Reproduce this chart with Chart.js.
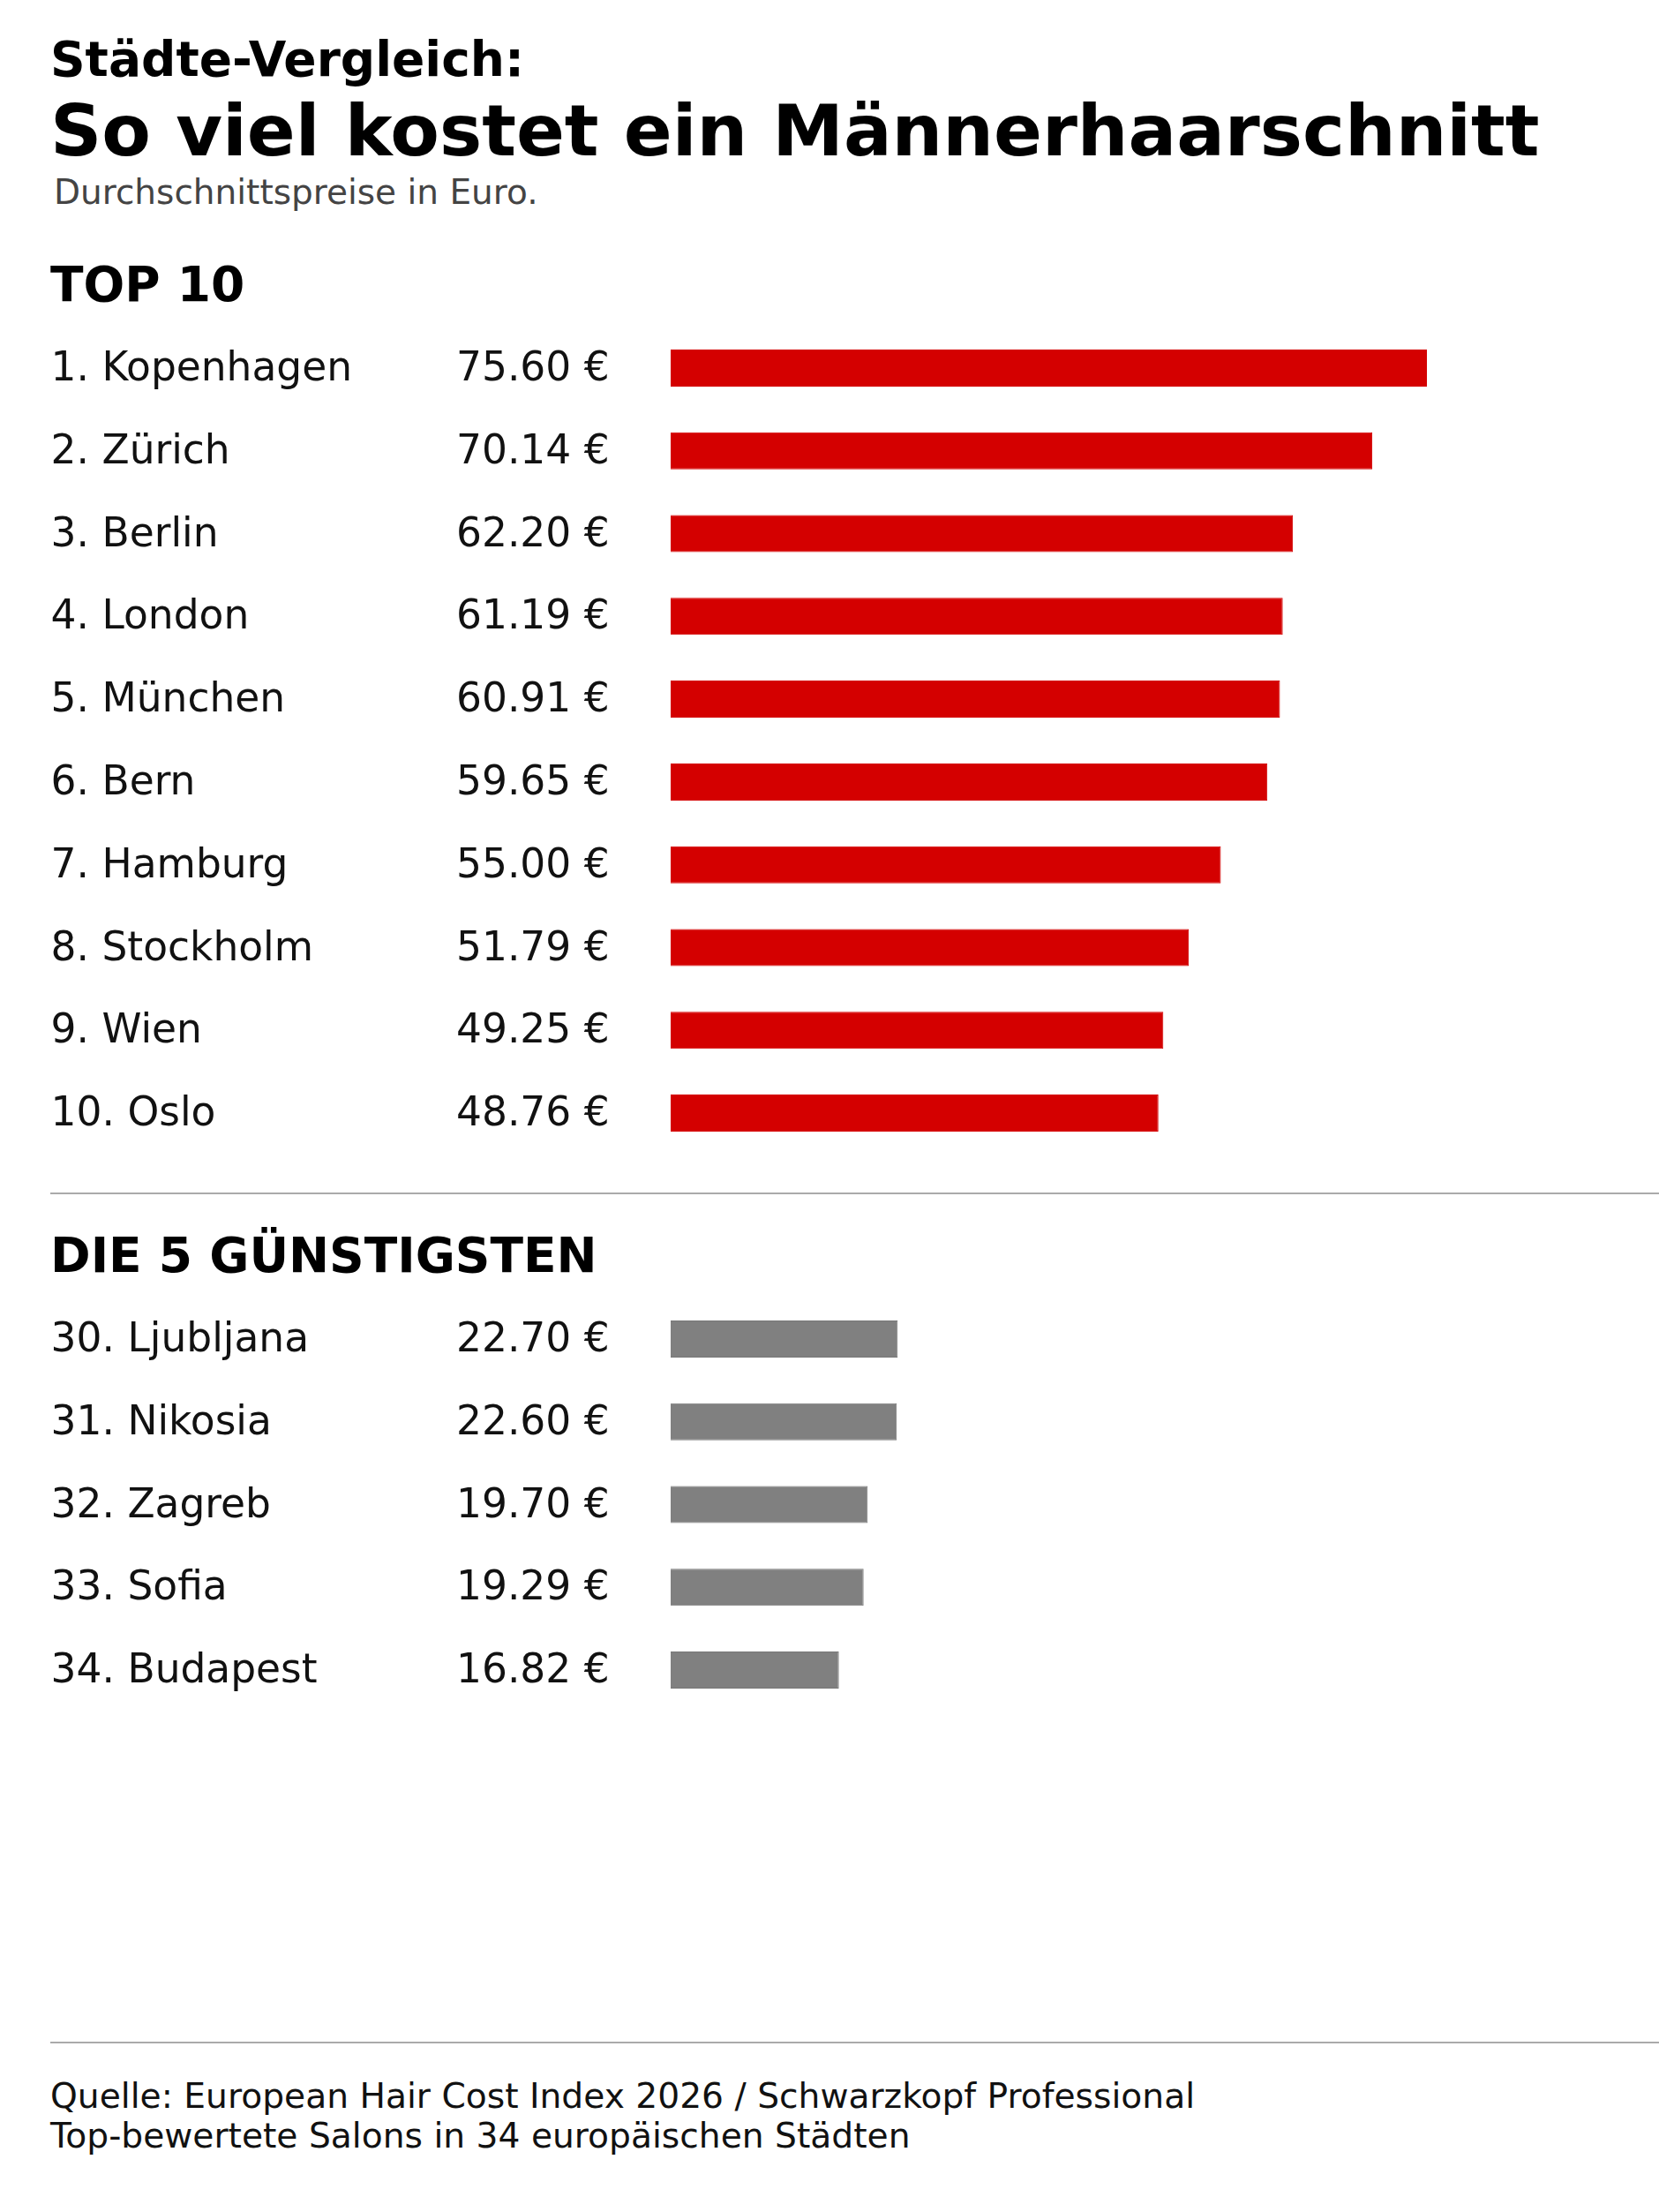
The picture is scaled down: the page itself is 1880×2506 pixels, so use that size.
<!DOCTYPE html>
<html lang="de">
<head>
<meta charset="utf-8">
<title>Städte-Vergleich: Männerhaarschnitt</title>
<script src="https://cdn.jsdelivr.net/npm/chart.js@4"></script>
<style>
  html, body { margin: 0; padding: 0; background: #fff; }
  body { width: 1880px; height: 2506px; position: relative; overflow: hidden;
         font-family: "DejaVu Sans", sans-serif; color: #000; }
  .t { position: absolute; white-space: nowrap; line-height: 1; }
  .bold { font-weight: bold; }
  .rule { position: absolute; left: 57px; right: 0; height: 2px; background: #aaaaaa; }
  .box { position: absolute; left: 0; width: 1880px; }
</style>
</head>
<body>
<div class="t bold" style="left:57px; top:40px; font-size:55px;">Städte-Vergleich:</div>
<div class="t bold" style="left:57px; top:108px; font-size:81px;">So viel kostet ein Männerhaarschnitt</div>
<div class="t" style="left:61px; top:198px; font-size:39px; color:#444;">Durchschnittspreise in Euro.</div>

<div class="t bold" style="left:57px; top:295px; font-size:55px;">TOP 10</div>
<div class="box" style="top:370px; height:938px;"><canvas id="topChart"></canvas></div>

<div class="rule" style="top:1351px;"></div>

<div class="t bold" style="left:57px; top:1395px; font-size:55px;">DIE 5 GÜNSTIGSTEN</div>
<div class="box" style="top:1470px; height:469px;"><canvas id="lowChart"></canvas></div>

<div class="rule" style="top:2313px;"></div>

<div class="t" style="left:57px; top:2355px; font-size:39.2px; color:#111;">Quelle: European Hair Cost Index 2026 / Schwarzkopf Professional</div>
<div class="t" style="left:57px; top:2400px; font-size:39.2px; color:#111;">Top-bewertete Salons in 34 europäischen Städten</div>

<script>
// Top 10
const topRanks = [1, 2, 3, 4, 5, 6, 7, 8, 9, 10];
const topCities = ['Kopenhagen', 'Zürich', 'Berlin', 'London', 'München', 'Bern', 'Hamburg', 'Stockholm', 'Wien', 'Oslo'];
const topPrices = [75.60, 70.14, 62.20, 61.19, 60.91, 59.65, 55.00, 51.79, 49.25, 48.76];

// die 5 günstigsten
const lowRanks = [30, 31, 32, 33, 34];
const lowCities = ['Ljubljana', 'Nikosia', 'Zagreb', 'Sofia', 'Budapest'];
const lowPrices = [22.70, 22.60, 19.70, 19.29, 16.82];

// name + price text left of every bar
const rowLabels = {
    id: 'rowLabels',
    afterDatasetsDraw(chart, args, opts) {
        const ctx = chart.ctx;
        const meta = chart.getDatasetMeta(0);
        ctx.save();
        ctx.font = '45.5px "DejaVu Sans"';
        ctx.fillStyle = '#111';
        ctx.textAlign = 'left';
        ctx.textBaseline = 'alphabetic';
        meta.data.forEach(function (bar, i) {
            ctx.fillText(opts.ranks[i] + '. ' + opts.cities[i], 57.6, bar.y + 14);
            ctx.fillText(opts.values[i].toFixed(2) + ' €', 517, bar.y + 14);
        });
        ctx.restore();
    }
};

function makeChart(id, ranks, cities, values, color, edge) {
    const context = document.getElementById(id).getContext('2d');
    return new Chart(context, {
        type: 'bar',
        data: {
            labels: cities,
            datasets: [{
                data: values,
                backgroundColor: color,
                borderColor: edge,
                borderWidth: 1,
                categoryPercentage: 1,
                barPercentage: 42 / 93.8
            }]
        },
        options: {
            indexAxis: 'y',
            responsive: true,
            maintainAspectRatio: false,
            animation: false,
            layout: { padding: { left: 760, right: 0, top: 0, bottom: 0 } },
            scales: {
                x: { display: false, min: 0, max: 98.8 },
                y: { display: false }
            },
            plugins: {
                legend: { display: false },
                tooltip: { enabled: false },
                rowLabels: { ranks: ranks, cities: cities, values: values }
            }
        },
        plugins: [rowLabels]
    });
}

makeChart('topChart', topRanks, topCities, topPrices, '#d40000', '#d40000');
makeChart('lowChart', lowRanks, lowCities, lowPrices, '#808080', '#777777');
</script>
</body>
</html>
